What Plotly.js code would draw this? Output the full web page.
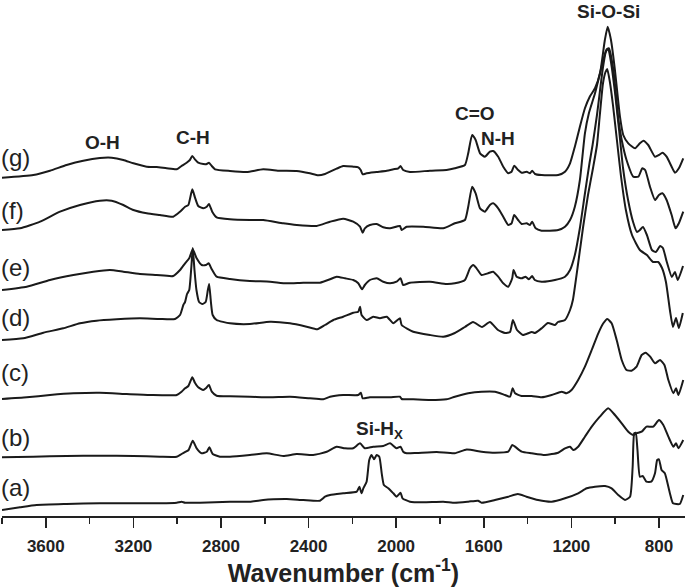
<!DOCTYPE html>
<html>
<head>
<meta charset="utf-8">
<script src="https://cdn.plot.ly/plotly-3.0.1.min.js"></script>
<style>html,body{margin:0;padding:0;background:#fff;}#chart{width:685px;height:587px;}</style>
</head>
<body>
<div id="chart"></div>
<script>
// FTIR spectra, stacked (offset intensity, a.u.), wavenumber in cm-1
const sampleLabels = ['(a)', '(b)', '(c)', '(d)', '(e)', '(f)', '(g)'];
const labelLevels = [29, 79, 144, 199, 249, 306, 359];

const wavenumberA = [3800,3718,3642,3505,3353,3200,3079,3002,2980,2964,2896,2759,2668,2607,2561,2500,2424,2348,2325,2302,2242,2180,2168,2158,2150,2135,2123,2112,2101,2089,2077,2066,2056,2036,2013,1998,1980,1971,1937,1876,1785,1732,1671,1626,1610,1549,1488,1444,1405,1352,1290,1229,1169,1130,1092,1046,1016,986,955,932,920,913,906,898,887,874,857,835,818,808,800,788,773,750,736,705,689];
const intensityA = [6,8.7,11,12,12.7,12.7,12.7,13.3,14.3,13.3,13.3,14.3,14.3,16,16.7,17,16,15.3,19.3,21,22.7,24.3,29.3,22.7,27.7,34.3,56,61,56.7,61,59.3,42.7,31,27.7,22.7,19.3,23.3,17.7,14.3,13.7,14.3,13.3,14.3,15.3,13.3,16,19.3,22,19.3,16,14.3,17.7,22.7,27.7,29.3,30,27.7,21,16,19.3,49.3,82.7,83.3,66,39.3,40,34.3,34.3,42.7,56,56.7,46,42.7,22.7,12.7,12,21];

const wavenumberB = [3800,3657,3505,3353,3200,3079,3002,2980,2961,2948,2929,2911,2888,2865,2853,2838,2805,2759,2668,2591,2516,2454,2379,2317,2272,2234,2196,2165,2143,2105,2059,2028,1998,1980,1968,1952,1907,1815,1732,1678,1610,1549,1488,1470,1457,1427,1381,1320,1260,1229,1206,1191,1169,1138,1107,1070,1032,1001,970,940,917,902,879,857,826,800,780,757,734,722,711,689];
const intensityB = [58.7,59.3,60,60.3,60,59.3,59.3,62,64.3,66,75.3,67.7,62.7,64.3,68.7,62,59.3,59.3,61,62.7,60,62,61,64.3,69.3,67.7,67.7,72.7,67.7,69.3,70,72.7,67.7,69.3,64.3,62.7,63,64,62.7,66.5,64.3,63.3,64.3,71,69.3,64.3,62.7,61,63.3,67.7,69.3,66,69.3,79.3,89.3,99.3,107.7,101,92.7,84.3,81,82.7,84.3,89.3,89.3,96,91,79.3,69.3,72.7,67.7,76];

const wavenumberC = [3800,3687,3581,3474,3353,3231,3124,3002,2980,2964,2949,2931,2919,2904,2881,2869,2855,2842,2820,2759,2668,2576,2485,2394,2333,2302,2242,2173,2161,2153,2120,2028,1983,1975,1922,1846,1770,1732,1671,1610,1549,1503,1480,1468,1457,1427,1381,1336,1290,1244,1222,1199,1169,1138,1107,1077,1054,1036,1016,993,970,948,925,902,879,861,840,818,795,775,757,734,722,711,689];
const intensityC = [117,118.7,121,122.7,123.3,122,121,121,124.3,127.7,130,138.7,133.3,128.7,126,127.7,131,124.3,120.3,119.7,119.3,118.7,119.3,117.7,116.7,119.3,121,121,123.3,117.7,118.7,118.7,119.3,117,116.7,116,116.7,119.3,122.7,124.3,124.3,121,119.3,127.7,122.7,120,120,118.7,121,124.3,122.7,126,136,149.3,166,182.7,192.7,197,192.7,176,156,146,145.3,149.3,161,163.3,159.3,152.7,156,151,136,122.7,127.7,121,136];

const wavenumberD = [3800,3703,3611,3520,3444,3368,3276,3170,3079,3010,2987,2972,2964,2955,2945,2935,2929,2921,2912,2900,2885,2870,2860,2854,2846,2838,2820,2759,2668,2576,2485,2409,2360,2325,2287,2242,2196,2173,2165,2158,2135,2105,2074,2043,2013,1983,1975,1922,1846,1785,1732,1686,1649,1608,1572,1535,1503,1480,1467,1448,1421,1380,1366,1334,1307,1275,1261,1229,1206,1193,1170,1147,1124,1101,1083,1070,1056,1044,1036,1024,1010,992,974,951,923,887,855,827,804,786,768,750,736,722,709,691];
const intensityD = [176,177.7,183.3,187.7,192.7,195.3,196.7,197.7,197,197,201,211,214,222,226,250,268,246,226,214,212,214,226,232,214,201,196,192.7,192,194.3,192.7,189.3,186.7,191,196,199.3,203.3,204.3,209.3,201,196,199.3,197.7,199.3,192.7,197.7,191,184.3,181,179.3,183,189,194,189,194,186,183,184,196,186,181,184,183,188,193,191,194,196,206,216,251,288,321,348,371,401,432,444,447,434,411,376,341,306,281,266,261,254,254,248,234,206,189,198,188,203];

const wavenumberE = [3800,3687,3581,3474,3383,3307,3246,3170,3094,3018,2987,2964,2945,2929,2911,2888,2869,2856,2842,2820,2759,2668,2576,2500,2424,2348,2302,2272,2234,2196,2173,2156,2143,2120,2089,2059,2028,1998,1980,1968,1937,1846,1770,1732,1686,1663,1648,1633,1610,1580,1557,1534,1511,1488,1470,1464,1450,1427,1409,1394,1379,1367,1336,1275,1229,1206,1184,1161,1139,1117,1103,1083,1070,1056,1043,1032,1019,1001,982,964,941,918,900,887,873,855,832,814,795,782,764,741,727,714,690];
const intensityE = [226,229.3,236,241,244.3,246,244.3,242,241,240,246,252.7,257.7,266.7,257.7,251,251,252.7,246.7,239.3,237,235,234.3,232.7,233.3,233.3,236.7,239.3,237.7,236,232.7,226.7,231,236,237.7,234.3,232.7,234.3,237.7,231,233.3,234.3,232,232.7,236,247.7,251,247.7,241,242.7,244.3,239.3,232.7,229.3,237.7,246,239.3,237.7,239.3,236.7,240,236,234.3,236,239.3,246,261,288,321,353,371,401,424,448,464,467.5,454,424,386,348,316,294,284,286,289,281,266,264,270,268,254,239,244,236,250];

const wavenumberF = [3800,3718,3626,3535,3444,3353,3299,3246,3200,3139,3079,3018,2987,2964,2949,2931,2919,2904,2881,2865,2855,2840,2820,2759,2668,2607,2516,2454,2363,2302,2242,2196,2165,2153,2143,2120,2089,2059,2028,1983,1975,1952,1876,1785,1732,1686,1671,1653,1637,1617,1595,1572,1557,1534,1511,1488,1473,1461,1443,1427,1404,1389,1379,1363,1336,1260,1229,1206,1184,1161,1138,1120,1092,1062,1039,1028,1008,985,970,948,917,894,876,863,841,818,800,784,765,742,724,709,689];
const intensityF = [286,287.7,294.3,304.3,311,315.3,315.3,311,306,302.7,301,299.3,304.3,309.3,311,326.7,318.7,310,307.7,309.3,312,304.3,298.7,296.7,296,296,292.7,291,290,294.3,297.3,294.3,289.3,283.3,287.7,291,292,288.7,287.7,290,286,289.3,289.3,287.7,292.7,296,309.3,329.3,322.7,307.7,304.3,311,312.7,307.7,299.3,291,292.7,301,296,292,292.7,291,294.3,287.7,285.3,286,289.3,296,309.3,336,382.7,402.7,422.7,449.3,466.7,467.7,446,396,376,356,339.3,339.3,347.7,346,329.3,316,321,322.7,316,301,287.7,292.7,304.3];

const wavenumberG = [3800,3657,3581,3505,3429,3353,3299,3246,3200,3139,3094,3048,3002,2980,2957,2942,2931,2919,2904,2881,2865,2855,2842,2827,2759,2683,2607,2531,2454,2394,2356,2325,2302,2272,2242,2196,2173,2162,2153,2135,2089,2043,2013,1990,1980,1968,1937,1846,1770,1732,1686,1671,1653,1637,1617,1595,1572,1557,1534,1511,1488,1473,1461,1443,1427,1404,1389,1379,1366,1336,1260,1229,1206,1184,1161,1138,1116,1092,1069,1047,1034,1019,1001,978,963,940,909,887,871,849,818,800,784,765,742,727,709,689];
const intensityG = [338.3,341,345.3,351,355.3,358,358.3,356,352.7,349.3,349,347.7,346.7,350,353.3,356,360,356.7,353.3,352,352,353.3,350,346.7,345,344,346.7,345.3,345,342.7,340.7,342,344.3,347.3,350,349.3,348.7,346,341.7,342.7,344,345.3,346.7,347.7,350,346,344,345.3,346,347.7,351,362.7,381,376,362.7,359.3,364.3,365,359.3,349.3,342.7,344.3,350.3,346,343.3,344.3,342.7,345.3,342,341,341,344.3,352.7,369.3,389.3,407.7,419.3,427.7,442.7,476,489.3,476,446,399.3,381,372.7,367.7,372.7,375.3,371,359.3,361,363.3,359.3,349.3,343.3,347.7,357.7];

// band assignments
const bandLabels = ['O-H', 'C-H', 'C=O', 'N-H', 'Si-O-Si', 'Si-H<sub>X</sub>'];
const bandPositions = [3343, 2928, 1640, 1533, 1031, 2074];
const bandLevels = [374, 379, 402.5, 377.5, 505, 86];

const series = [
  [wavenumberA, intensityA], [wavenumberB, intensityB], [wavenumberC, intensityC],
  [wavenumberD, intensityD], [wavenumberE, intensityE], [wavenumberF, intensityF],
  [wavenumberG, intensityG]
];

const lineColor = '#1a1a1a';
const traces = series.map((s, i) => ({
  x: s[0], y: s[1], type: 'scatter', mode: 'lines',
  name: sampleLabels[i],
  line: {color: lineColor, width: 2, shape: 'spline', smoothing: 0.5},
  hoverinfo: 'skip'
}));

const fontFam = 'Liberation Sans, Arial, Helvetica, sans-serif';
const annotations = [];
sampleLabels.forEach((t, i) => {
  annotations.push({
    text: t, xref: 'paper', yref: 'y', x: 0, y: labelLevels[i],
    xanchor: 'left', yanchor: 'middle', xshift: -3, showarrow: false,
    font: {family: fontFam, size: 24, color: '#222'}
  });
});
bandLabels.forEach((t, i) => {
  annotations.push({
    text: t, xref: 'x', yref: 'y', x: bandPositions[i], y: bandLevels[i],
    xanchor: 'center', yanchor: 'middle', showarrow: false,
    font: {family: fontFam, size: 19, color: '#222', weight: 'bold'}
  });
});

const layout = {
  width: 685, height: 587,
  margin: {l: 2, r: 0, t: 0, b: 71, pad: 0},
  paper_bgcolor: '#fff', plot_bgcolor: '#fff',
  showlegend: false,
  xaxis: {
    range: [3800, 681], autorange: false,
    showline: true, linecolor: '#222', linewidth: 1.5,
    ticks: 'outside', ticklen: 10, tickwidth: 1.5, tickcolor: '#222',
    tick0: 0, dtick: 400,
    minor: {ticks: 'outside', ticklen: 6, tickwidth: 1.5, tickcolor: '#222', tick0: 0, dtick: 200, showgrid: false},
    showgrid: false, zeroline: false,
    tickfont: {family: fontFam, size: 17, color: '#222', weight: 'bold'},
    ticklabelstandoff: 4,
    title: {text: 'Wavenumber (cm<sup>-1</sup>)', standoff: 3,
            font: {family: fontFam, size: 25, color: '#222', weight: 'bold'}}
  },
  yaxis: {range: [0, 516], autorange: false, visible: false, showgrid: false, zeroline: false},
  annotations: annotations
};

Plotly.newPlot('chart', traces, layout, {displayModeBar: false, staticPlot: true});
</script>
</body>
</html>
